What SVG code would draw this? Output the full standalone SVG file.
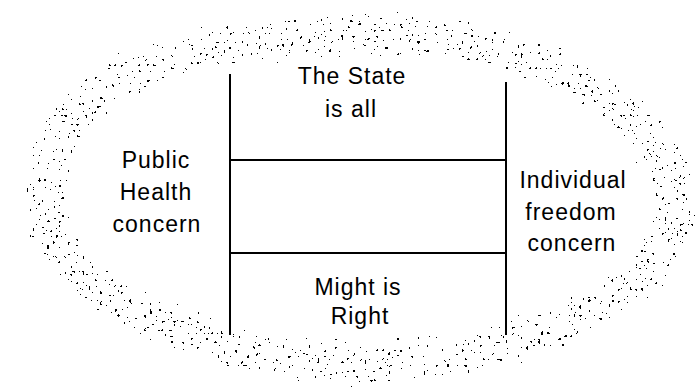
<svg xmlns="http://www.w3.org/2000/svg" width="697" height="390" viewBox="0 0 697 390">
<style>
.t{font-family:"Liberation Sans",Arial,sans-serif;font-size:23px;letter-spacing:1px;fill:#000;text-anchor:middle}
.ln{stroke:#000;stroke-width:2;fill:none}
</style>
<defs>
<filter id="spray" filterUnits="userSpaceOnUse" x="0" y="0" width="697" height="390" color-interpolation-filters="sRGB">
<feGaussianBlur in="SourceAlpha" stdDeviation="8" result="d"/>
<feTurbulence type="fractalNoise" baseFrequency="0.34" numOctaves="1" seed="7" result="n"/>
<feColorMatrix in="n" type="matrix" values="0 0 0 0 0  0 0 0 0 0  0 0 0 0 0  1 0 0 0 0" result="na"/>
<feComposite in="na" in2="d" operator="arithmetic" k1="1" k2="0" k3="0" k4="0" result="m"/>
<feComponentTransfer in="m"><feFuncA type="discrete" tableValues="0 0 0 0 0 0 0 0 0 0 0 0 0 0 0 0 0 0 0 0 0 0 0 0 0 0 0 0 0 0 0 0 0 0 0 0 0 0 0 0 0 0 0 0 0 0 0 0 0 0 0 0 0 0 0 1 1 1 1 1 1 1 1 1 1 1 1 1 1 1 1 1 1 1 1 1 1 1 1 1"/></feComponentTransfer>
</filter>
</defs>
<rect width="697" height="390" fill="#fff"/>
<g id="ring" filter="url(#spray)">
<polygon points="350,33 480,42 560,70 630,115 670,170 675,225 645,275 570,322 470,352 360,365 250,352 150,318 85,280 50,235 45,175 65,120 120,78 210,45" fill="none" stroke="#000" stroke-width="64" stroke-linejoin="round"/>
</g>
<g id="connectors">
<line class="ln" x1="230" y1="74" x2="230" y2="335"/>
<line class="ln" x1="506" y1="82" x2="506" y2="335"/>
<line class="ln" x1="230" y1="160" x2="506" y2="160"/>
<line class="ln" x1="230" y1="253" x2="506" y2="253"/>
</g>
<g id="state"><text class="t" x="352" y="84">The State</text><text class="t" x="351" y="117">is all</text></g>
<g id="public"><text class="t" x="156" y="168">Public</text><text class="t" x="156" y="200">Health</text><text class="t" x="157" y="232">concern</text></g>
<g id="individual"><text class="t" x="573" y="188">Individual</text><text class="t" x="571" y="220">freedom</text><text class="t" x="572" y="251">concern</text></g>
<g id="might"><text class="t" x="358" y="295">Might is</text><text class="t" x="360" y="324">Right</text></g>
</svg>
